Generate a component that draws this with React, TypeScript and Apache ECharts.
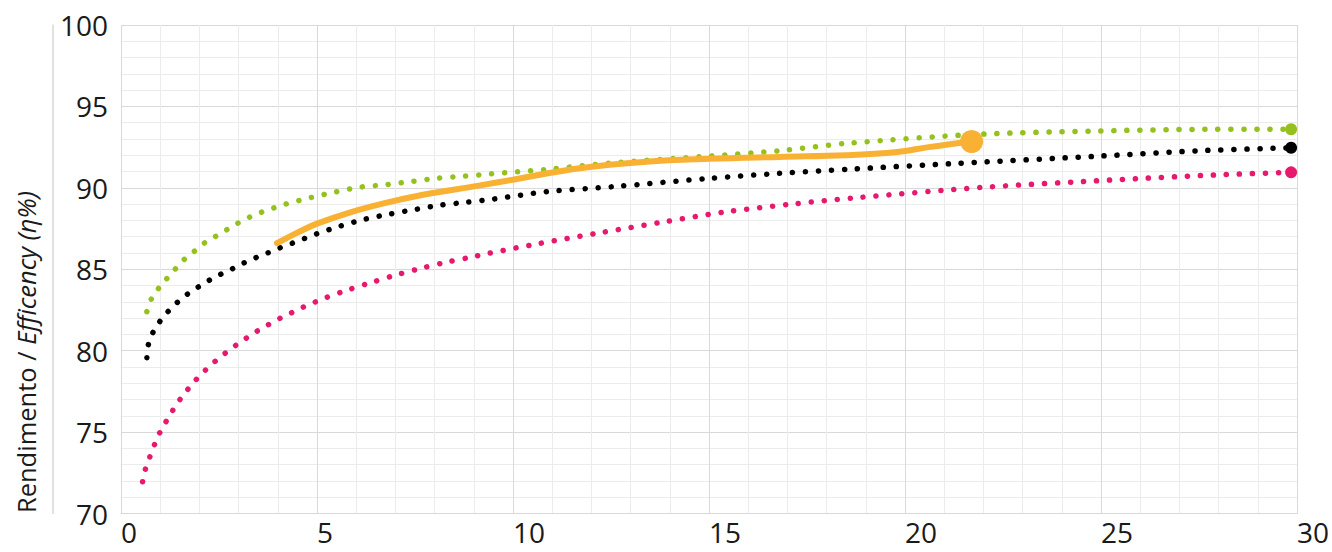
import React, { useEffect, useRef } from "react";
import * as echarts from "echarts";

const greenData: [number, number][] = [
  [0.66, 82.4], [0.78, 83.2], [0.95, 83.8], [1.16, 84.4], [1.38, 85.0], [1.61, 85.6],
  [1.87, 86.1], [2.12, 86.6], [2.4, 87.0], [2.68, 87.4], [2.96, 87.8], [3.28, 88.2],
  [3.58, 88.5], [3.88, 88.75], [4.2, 89.0], [4.84, 89.4], [5.48, 89.75], [6.13, 90.05],
  [6.79, 90.2], [7.44, 90.4], [8.09, 90.6], [8.75, 90.72], [9.41, 90.85], [10.85, 91.13],
  [12.56, 91.54], [15.0, 91.95], [16.8, 92.28], [18.6, 92.75], [21.8, 93.28],
  [24.88, 93.49], [27.5, 93.59], [29.85, 93.6],
];

const blackData: [number, number][] = [
  [0.66, 79.57], [0.7, 80.39], [0.82, 81.14], [1.0, 81.82], [1.21, 82.43], [1.44, 82.97],
  [1.7, 83.48], [1.97, 83.91], [2.25, 84.32], [2.54, 84.69], [2.84, 85.03], [3.13, 85.38],
  [3.44, 85.71], [3.74, 86.0], [4.04, 86.3], [4.36, 86.59], [4.98, 87.16], [5.59, 87.65],
  [6.23, 88.08], [6.86, 88.39], [7.53, 88.68], [8.16, 88.94], [8.81, 89.11], [9.5, 89.31],
  [10.86, 89.76], [12.56, 90.07], [15.0, 90.58], [16.8, 90.89], [18.62, 91.15],
  [21.3, 91.5], [24.96, 91.95], [27.51, 92.28], [29.85, 92.46],
];

const pinkData: [number, number][] = [
  [0.55, 71.95], [0.62, 72.7], [0.73, 73.44], [0.85, 74.2], [0.98, 74.92], [1.14, 75.61],
  [1.31, 76.29], [1.49, 76.95], [1.69, 77.58], [1.9, 78.18], [2.13, 78.75], [2.37, 79.28],
  [2.63, 79.79], [2.89, 80.26], [3.16, 80.71], [3.43, 81.14], [3.71, 81.53], [4.0, 81.92],
  [4.3, 82.27], [4.6, 82.62], [4.89, 82.92], [5.2, 83.23], [5.82, 83.76], [6.44, 84.23],
  [7.08, 84.69], [7.71, 85.09], [8.35, 85.46], [8.99, 85.77], [9.3, 85.94], [10.6, 86.55],
  [12.22, 87.24], [13.83, 87.9], [15.45, 88.53], [17.08, 88.99], [18.74, 89.39],
  [21.99, 90.03], [25.26, 90.48], [27.9, 90.79], [29.85, 90.95],
];

const orangeData: [number, number][] = [
  [3.98, 86.6], [4.5, 87.25], [5.0, 87.8], [5.85, 88.5], [6.7, 89.05], [7.55, 89.5],
  [8.4, 89.85], [9.16, 90.15], [10.0, 90.5], [11.7, 91.2], [13.4, 91.6], [15.0, 91.78],
  [16.8, 91.9], [18.5, 92.0], [19.8, 92.2], [20.6, 92.5], [21.7, 92.85],
];

const xTicks = { min: 0, max: 30, interval: 5 };
const yTicks = { min: 70, max: 100, interval: 5 };

const FONT = "'Open Sans', 'Noto Sans', sans-serif";

function withEnd(points: [number, number][], size: number) {
  return points.map((p, i) =>
    i === points.length - 1 ? { value: p, symbol: "circle", symbolSize: size } : { value: p }
  );
}

function dotted(name: string, color: string, points: [number, number][]) {
  return {
    name,
    type: "line",
    data: withEnd(points, 12),
    smooth: 0.3,
    symbol: "none",
    showAllSymbol: true,
    itemStyle: { color },
    lineStyle: { color, width: 5.5, type: [0.1, 12.9], cap: "round" },
    z: 3,
  };
}

export default function App() {
  const ref = useRef<HTMLDivElement>(null);
  useEffect(() => {
    document.body.style.margin = "0";
    const chart = echarts.init(ref.current!, undefined, { renderer: "svg" });
    chart.setOption({
      animation: false,
      backgroundColor: "#ffffff",
      textStyle: { fontFamily: FONT },
      grid: { left: 121, right: 34, top: 25, bottom: 38.5, containLabel: false },
      xAxis: {
        type: "value",
        min: xTicks.min,
        max: xTicks.max,
        interval: xTicks.interval,
        axisLine: { show: true, lineStyle: { color: "#d9d9d9", width: 1 } },
        axisTick: { show: false },
        axisLabel: { color: "#1a1a1a", fontSize: 28, fontFamily: FONT, align: "left", margin: 4 },
        splitLine: { show: true, lineStyle: { color: "#d9d9d9", width: 1 } },
        minorTick: { show: false, splitNumber: 5 },
        minorSplitLine: { show: true, lineStyle: { color: "#ececec", width: 1 } },
      },
      yAxis: [
        {
          type: "value",
          min: yTicks.min,
          max: yTicks.max,
          interval: yTicks.interval,
          axisLine: { show: false },
          axisTick: { show: false },
          axisLabel: { color: "#1a1a1a", fontSize: 28, fontFamily: FONT, margin: 13 },
          splitLine: { show: true, lineStyle: { color: "#d9d9d9", width: 1 } },
          minorTick: { show: false, splitNumber: 5 },
          minorSplitLine: { show: true, lineStyle: { color: "#ececec", width: 1 } },
        },
        {
          type: "value",
          position: "left",
          offset: 68,
          min: yTicks.min,
          max: yTicks.max,
          interval: yTicks.interval,
          axisLine: { show: true, lineStyle: { color: "#d9d9d9", width: 1.5 } },
          axisTick: { show: false },
          axisLabel: { show: false },
          splitLine: { show: false },
        },
      ],
      graphic: [
        {
          type: "text",
          x: 26,
          y: 352,
          rotation: Math.PI / 2,
          style: {
            text: "{n|Rendimento / }{i|Efficency (η%)}",
            align: "center",
            verticalAlign: "middle",
            rich: {
              n: { fontSize: 25.5, fontFamily: FONT, fill: "#1a1a1a" },
              i: { fontSize: 25.5, fontFamily: FONT, fontStyle: "italic", fill: "#1a1a1a" },
            },
          },
        },
      ],
      series: [
        dotted("pink", "#E6196E", pinkData),
        dotted("black", "#000000", blackData),
        dotted("green", "#95C11F", greenData),
        {
          name: "orange",
          type: "line",
          data: withEnd(orangeData, 23),
          smooth: 0.4,
          symbol: "none",
          showAllSymbol: true,
          itemStyle: { color: "#F8B133" },
          lineStyle: { color: "#F8B133", width: 6, cap: "round" },
          z: 4,
        },
      ],
    });
    return () => chart.dispose();
  }, []);
  return <div ref={ref} style={{ width: 1332, height: 552 }} />;
}
